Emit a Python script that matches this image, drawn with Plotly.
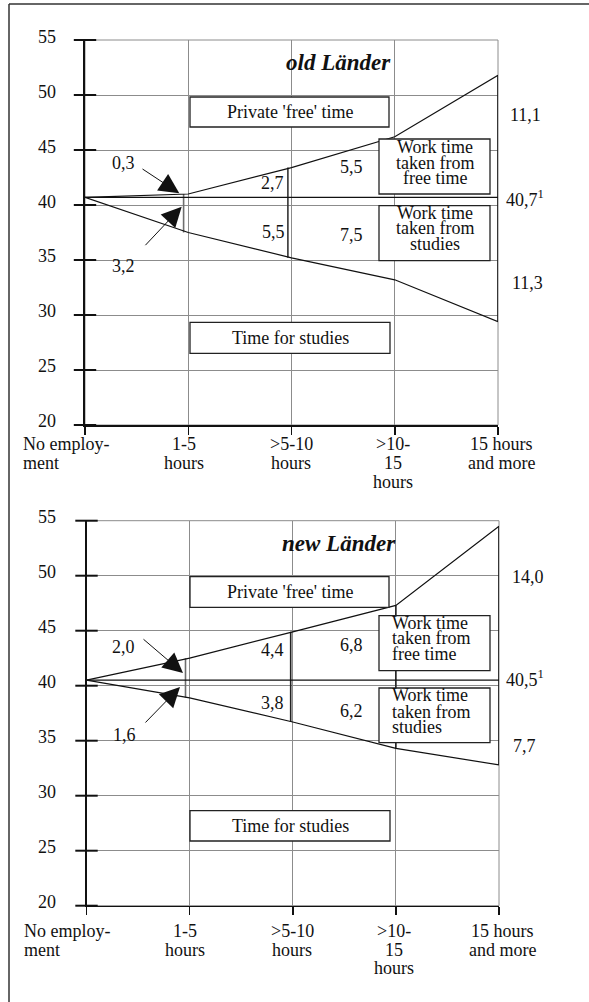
import plotly.graph_objects as go

W, H = 589, 1002

# ---------------- data ----------------
categories = ["No employment", "1-5 hours", ">5-10 hours", ">10-15 hours", "15 hours and more"]
cat_label_lines = [["No employ-", "ment"], ["1-5", "hours"], [">5-10", "hours"],
                   [">10-", "15", "hours"], ["15 hours", "and more"]]
y_ticks = [20, 25, 30, 35, 40, 45, 50, 55]

old_base = 40.7
old_from_free = [0.0, 0.3, 2.7, 5.5, 11.1]     # work time taken from free time
old_from_studies = [0.0, 3.2, 5.5, 7.5, 11.3]  # work time taken from studies

new_base = 40.5
new_from_free = [0.0, 2.0, 4.4, 6.8, 14.0]
new_from_studies = [0.0, 1.6, 3.8, 6.2, 7.7]

FONT = "Liberation Serif"
TXT = "#111111"
GRID = "#8c8c8c"


def fmt(v):
    return f"{v:.1f}".replace(".", ",")


def px(xp):
    return xp / W


def py(yp):
    return 1 - yp / H


panels = [
    dict(title="old Länder", base=old_base, up=old_from_free, dn=old_from_studies,
         xa="x", ya="y", x0=85, x1=498, ytop=40, ybot=425,
         up_lab=[(123, 163.3), (272, 183), (351, 167), (525, 115)],
         dn_lab=[(123, 266), (273, 232), (351, 235), (527, 283.3)],
         base_lab=(504, 198), title_pos=(393, 63),
         box_private=(190, 97, 389, 127), box_wtf=(379, 139, 490, 194),
         box_wts=(379, 205.7, 490, 260.7), box_study=(190, 322.3, 390, 353.3),
         wt_align="center", wt_x=434.5, wtf_y=[146.7, 162.7, 178.3], wts_y=[212.7, 228.3, 244.3],
         arr_up=((179.3, 193.3), (141, 168)), arr_dn=((181.7, 206.7), (144, 246.7)),
         tick_y=[444, 463, 481.5], tick_x=[21, 184, 291, 393, 501],
         span_off=[0, 0.045, 0.035, 0, 0],
         span_col=[None, "#6e6e6e", "#333333", None, "#111111"]),
    dict(title="new Länder", base=new_base, up=new_from_free, dn=new_from_studies,
         xa="x2", ya="y2", x0=86.5, x1=499, ytop=520.7, ybot=905.7,
         up_lab=[(123, 646.7), (272, 650), (351, 645), (528, 576.7)],
         dn_lab=[(124, 735), (272, 703.3), (351, 710.7), (524, 746)],
         base_lab=(504, 678), title_pos=(398, 543),
         box_private=(190, 576.7, 389, 607.3), box_wtf=(379, 615.7, 490, 670.7),
         box_wts=(379, 688, 490, 742.7), box_study=(190, 810.7, 390, 841),
         wt_align="left", wt_x=390, wtf_y=[622.7, 637.7, 654], wts_y=[695, 711.7, 726.7],
         arr_up=((183, 673), (142, 638)), arr_dn=((180, 687), (144, 724)),
         tick_y=[930.7, 949.5, 968], tick_x=[21.5, 185, 292, 394, 502],
         span_off=[0, 0.04, 0.02, 0, 0],
         span_col=[None, "#6e6e6e", "#222222", "#222222", "#111111"]),
]

fig = go.Figure()
shapes = []
annotations = []
idx = list(range(len(categories)))

for k, p in enumerate(panels):
    base = p["base"]
    upper = [base + v for v in p["up"]]
    lower = [base - v for v in p["dn"]]
    xa, ya = p["xa"], p["ya"]

    # span markers
    for i in idx:
        if p["span_col"][i] is None:
            continue
        xi = i - p["span_off"][i]
        fig.add_trace(go.Scatter(x=[xi, xi], y=[upper[i], lower[i]], mode="lines",
                                 line=dict(color=p["span_col"][i], width=1.6),
                                 xaxis=xa, yaxis=ya, showlegend=False, hoverinfo="skip"))
    # baseline
    fig.add_trace(go.Scatter(x=[idx[0], idx[-1]], y=[base, base], mode="lines",
                             line=dict(color="#111111", width=1.2),
                             xaxis=xa, yaxis=ya, showlegend=False, hoverinfo="skip"))
    # upper / lower lines
    fig.add_trace(go.Scatter(x=idx, y=upper, mode="lines", line=dict(color="#111111", width=1.2),
                             xaxis=xa, yaxis=ya, showlegend=False, hoverinfo="skip"))
    fig.add_trace(go.Scatter(x=idx, y=lower, mode="lines", line=dict(color="#111111", width=1.2),
                             xaxis=xa, yaxis=ya, showlegend=False, hoverinfo="skip"))
    # y ticks crossing the axis
    fig.add_trace(go.Scatter(x=[0] * len(y_ticks), y=y_ticks, mode="markers",
                             marker=dict(symbol="line-ew", size=16,
                                         line=dict(color="#111111", width=2)),
                             cliponaxis=False, xaxis=xa, yaxis=ya,
                             showlegend=False, hoverinfo="skip"))

    sfx = "" if k == 0 else "2"
    fig.update_layout(**{
        "xaxis" + sfx: dict(domain=[px(p["x0"]), px(p["x1"])], range=[0, 4], tickvals=idx,
                            showticklabels=False, ticks="outside", ticklen=8, tickwidth=1.5,
                            tickcolor="#111111", showgrid=True, gridcolor=GRID, gridwidth=1,
                            showline=True, linecolor="#111111", linewidth=1.5,
                            zeroline=False, anchor=ya, fixedrange=True),
        "yaxis" + sfx: dict(domain=[py(p["ybot"]), py(p["ytop"])], range=[20, 55],
                            tickvals=y_ticks, showticklabels=False, ticks="",
                            showgrid=True, gridcolor=GRID, gridwidth=1,
                            showline=True, linecolor="#111111", linewidth=2,
                            zeroline=False, anchor=xa, fixedrange=True),
    })

    # plot frame (top/right gray)
    shapes.append(dict(type="rect", xref=xa + " domain", yref=ya + " domain",
                       x0=0, x1=1, y0=0, y1=1, line=dict(color=GRID, width=1), layer="below"))

    # boxes
    for key in ["box_private", "box_wtf", "box_wts", "box_study"]:
        bx0, by0, bx1, by1 = p[key]
        shapes.append(dict(type="rect", xref="paper", yref="paper",
                           x0=px(bx0), x1=px(bx1), y0=py(by1), y1=py(by0),
                           fillcolor="white", line=dict(color="#222222", width=1.3),
                           layer="above"))

    def text(t, xp, yp, size=18, xanchor="center"):
        annotations.append(dict(text=t, x=px(xp), y=py(yp), xref="paper", yref="paper",
                                showarrow=False, xanchor=xanchor, yanchor="middle",
                                font=dict(family=FONT, size=size, color=TXT)))

    bx0, by0, bx1, by1 = p["box_private"]
    text("Private 'free' time", (bx0 + bx1) / 2, (by0 + by1) / 2)
    bx0, by0, bx1, by1 = p["box_study"]
    text("Time for studies", (bx0 + bx1) / 2, (by0 + by1) / 2)
    for line, yy in zip(["Work time", "taken from", "free time"], p["wtf_y"]):
        text(line, p["wt_x"], yy, xanchor=p["wt_align"])
    for line, yy in zip(["Work time", "taken from", "studies"], p["wts_y"]):
        text(line, p["wt_x"], yy, xanchor=p["wt_align"])

    # title
    text(f"<b><i>{p['title']}</i></b>", p["title_pos"][0], p["title_pos"][1], size=23,
         xanchor="right")

    # value labels
    for v, (lx, ly) in zip(p["up"][1:], p["up_lab"]):
        text(fmt(v), lx, ly)
    for v, (lx, ly) in zip(p["dn"][1:], p["dn_lab"]):
        text(fmt(v), lx, ly)
    text(f"{fmt(base)}<sup>1</sup>", p["base_lab"][0], p["base_lab"][1], xanchor="left")

    # y tick labels
    for t in y_ticks:
        yp = p["ybot"] - (t - 20) / 35 * (p["ybot"] - p["ytop"]) - 3.5
        text(str(t), 57.5, yp, xanchor="right")

    # category labels
    for i, lines in enumerate(cat_label_lines):
        for j, line in enumerate(lines):
            text(line, p["tick_x"][i], p["tick_y"][j], xanchor="left" if i == 0 else "center")

    # arrows
    for (tip, tail) in [p["arr_up"], p["arr_dn"]]:
        annotations.append(dict(text="", x=px(tip[0]), y=py(tip[1]), xref="paper", yref="paper",
                                ax=tail[0] - tip[0], ay=tail[1] - tip[1], axref="pixel",
                                ayref="pixel", showarrow=True, arrowhead=2, arrowsize=4,
                                arrowwidth=1, arrowcolor="#111111", standoff=0,
                                startstandoff=0))

# page frame lines (top and left)
shapes.append(dict(type="line", xref="paper", yref="paper", x0=px(9), x1=1, y0=py(4), y1=py(4),
                   line=dict(color="#333333", width=1.5)))
shapes.append(dict(type="line", xref="paper", yref="paper", x0=px(9), x1=px(9), y0=py(4), y1=0,
                   line=dict(color="#333333", width=1.5)))

fig.update_layout(width=W, height=H, margin=dict(l=0, r=0, t=0, b=0),
                  paper_bgcolor="white", plot_bgcolor="white",
                  shapes=shapes, annotations=annotations, showlegend=False)

fig.write_html("out.html", config={"displayModeBar": False, "staticPlot": True},
               post_script="document.body.style.margin='0';document.body.style.overflow='hidden';")
